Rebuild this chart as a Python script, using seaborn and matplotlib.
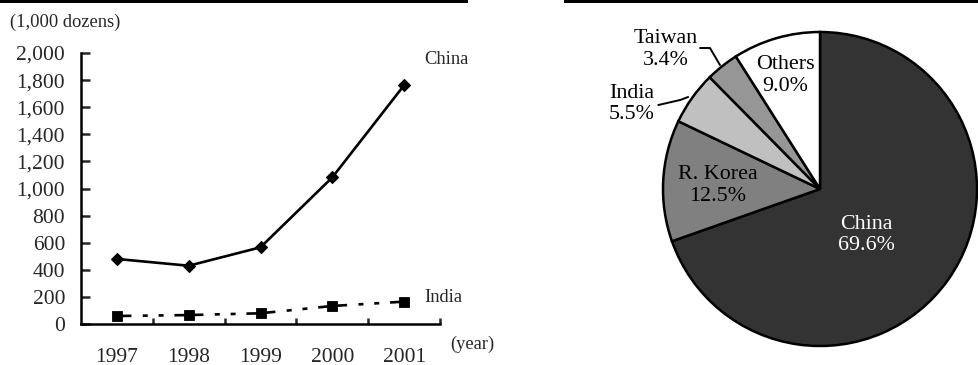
import numpy as np
import pandas as pd
import matplotlib
matplotlib.use("Agg")
import matplotlib.pyplot as plt
from matplotlib.patches import Rectangle
from matplotlib.lines import Line2D
import seaborn as sns

# Imports by supplier (1,000 dozens)
years = [1997, 1998, 1999, 2000, 2001]
china = [480, 430, 566, 1082, 1762]
india = [59, 66, 79, 133, 165]

# Import shares in 2001 (%)
pie_labels = ["China", "R. Korea", "India", "Taiwan", "Others"]
pie_shares = [69.6, 12.5, 5.5, 3.4, 9.0]
pie_colors = ["#333333", "#808080", "#c0c0c0", "#969696", "#ffffff"]
yticks = list(range(0, 2001, 200))

sns.set_theme(style="white")
plt.rcParams["font.family"] = ["Liberation Serif", "DejaVu Serif"]
plt.rcParams["axes.linewidth"] = 1.8

W, H = 979, 365
fig = plt.figure(figsize=(W / 100, H / 100), dpi=100)

def fx(px):
    return px / W

def fy(py):
    return 1 - py / H

# rules across the top of each panel
fig.add_artist(Rectangle((0, fy(3.4)), fx(468), 3.4 / H, transform=fig.transFigure,
                         color="black", lw=0))
fig.add_artist(Rectangle((fx(564), fy(3.4)), fx(979 - 564), 3.4 / H, transform=fig.transFigure,
                         color="black", lw=0))

# ---- line chart ----
ax = fig.add_axes([fx(81), fy(324), fx(440 - 81), (324 - 53) / H])
df_c = pd.DataFrame({"year": years, "value": china})
df_i = pd.DataFrame({"year": years, "value": india})
sns.lineplot(data=df_c, x="year", y="value", ax=ax, color="black", lw=1.9,
             marker="D", markersize=6.0, markeredgewidth=0.8, markeredgecolor="black")
sns.lineplot(data=df_i, x="year", y="value", ax=ax, color="black", lw=1.9,
             marker="s", markersize=7.0, markeredgewidth=0.6, markeredgecolor="black")
ax.lines[1].set_linestyle((5.5, (11, 4.3, 1.9, 4.1, 1.9, 4.1)))

ax.set_xlim(years[0] - 0.5, years[-1] + 0.5)
ax.set_ylim(0, 2000)
ax.set_yticks(yticks, labels=[f"{v:,}" for v in yticks])
ax.set_xticks(years, labels=[str(y) for y in years])
ax.set_xticks([y + 0.5 for y in years], minor=True)
ax.tick_params(axis="y", which="major", direction="in", length=6.5, width=1.8,
               pad=11.5, labelsize=15.5, left=True)
ax.tick_params(axis="x", which="major", length=0, pad=17, labelsize=15.5)
ax.tick_params(axis="x", which="minor", direction="in", length=4.5, width=1.8, bottom=True)
for s in ["top", "right"]:
    ax.spines[s].set_visible(False)
for s in ["left", "bottom"]:
    ax.spines[s].set_color("black")
    ax.spines[s].set_linewidth(1.8)
ax.set_xlabel("")
ax.set_ylabel("")
ax.grid(False)

ax.text(2001.28, 1953, "China", fontsize=13.3, ha="left", va="center", clip_on=False)
ax.text(2001.28, 199, "India", fontsize=13.3, ha="left", va="center", clip_on=False)
fig.text(fx(10), fy(22), "(1,000 dozens)", fontsize=13.3, ha="left", va="center")
fig.text(fx(450), fy(344), "(year)", fontsize=13.3, ha="left", va="center")

# ---- pie chart ----
R = 157
pax = fig.add_axes([fx(820 - R), fy(189 + R), fx(2 * R), 2 * R / H])
pax.pie(pie_shares, colors=pie_colors, startangle=90, counterclock=False,
        wedgeprops=dict(edgecolor="black", linewidth=1.8))
pax.set_xlim(-1, 1)
pax.set_ylim(-1, 1)
pax.set_aspect("equal")
pax.axis("off")

fs = 15.8
label_pos = {
    "China": (0.293, -0.293, "white"),
    "R. Korea": (-0.65, 0.022, "black"),
    "Others": (-0.223, 0.725, "black"),
    "Taiwan": (-0.98, 0.89, "black"),
    "India": (-1.197, 0.541, "black"),
}
for name, share in zip(pie_labels, pie_shares):
    x, y, c = label_pos[name]
    pax.text(x, y, f"{name}\n{share:.1f}%", ha="center", va="center",
             fontsize=fs, color=c, linespacing=1.2, clip_on=False)

# leader lines for the thin slices
pax.add_line(Line2D([-0.764, -0.701, -0.637], [0.898, 0.898, 0.79],
                    color="black", lw=1.4, clip_on=False))
pax.add_line(Line2D([-1.03, -0.89, -0.84], [0.535, 0.567, 0.586],
                    color="black", lw=1.4, clip_on=False))

fig.savefig("out.png", dpi=100)
